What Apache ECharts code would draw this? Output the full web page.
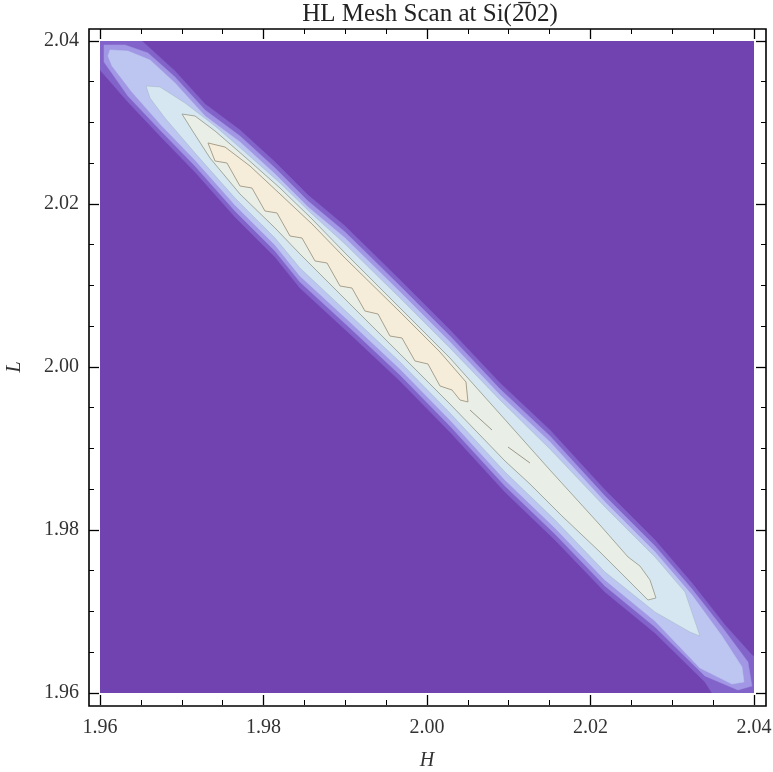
<!DOCTYPE html>
<html>
<head>
<meta charset="utf-8">
<script src="https://cdn.jsdelivr.net/npm/echarts@6/dist/echarts.min.js"></script>
<style>
html,body{margin:0;padding:0;background:#fff;}
#chart{width:773px;height:772px;}
</style>
</head>
<body>
<div id="chart"></div>
<script>
// ---- axis ticks ----
const hTicks = [1.96, 1.98, 2.00, 2.02, 2.04];
const lTicks = [1.96, 1.98, 2.00, 2.02, 2.04];

// ---- contour regions (closed polygons in H, L data units), outer -> inner ----
const level1H = [1.95878,1.96514,1.96917,1.97284,1.97712,1.98141,1.98544,1.98997,1.99670,2.00281,2.00893,2.01504,2.02177,2.02789,2.03241,2.03645,2.03975,2.04257,2.04257,2.04073,2.03486,2.03400,2.02789,2.02177,2.01566,2.00954,2.00281,1.99670,1.99058,1.98446,1.98141,1.97651,1.97162,1.96758,1.96342,1.96000,1.95755,1.95755];
const level1L = [2.04258,2.04000,2.03632,2.03227,2.02908,2.02515,2.02110,2.01730,2.01068,2.00454,1.99804,1.99227,1.98491,1.97877,1.97350,1.96834,1.96466,1.96282,1.95669,1.95669,1.96000,1.96135,1.96736,1.97239,1.97877,1.98466,1.99202,1.99828,2.00405,2.00969,2.01350,2.01841,2.02393,2.02810,2.03252,2.03644,2.03951,2.04258];

const level2H = [1.96049,1.96306,1.96587,1.96917,1.97284,1.97712,1.98141,1.98544,1.98997,1.99670,2.00281,2.00893,2.01504,2.02177,2.02789,2.03241,2.03645,2.03926,2.03975,2.03804,2.03400,2.02789,2.02177,2.01566,2.00954,2.00281,1.99670,1.99058,1.98446,1.98141,1.97651,1.97162,1.96758,1.96342,1.96049];
const level2L = [2.03951,2.03951,2.03853,2.03558,2.03153,2.02834,2.02442,2.02037,2.01657,2.00994,2.00380,1.99730,1.99153,1.98417,1.97804,1.97276,1.96761,1.96380,1.96086,1.96037,1.96209,1.96810,1.97313,1.97951,1.98540,1.99276,1.99902,2.00479,2.01043,2.01423,2.01914,2.02466,2.02883,2.03325,2.03742];

const level3H = [1.96122,1.96342,1.96612,1.96917,1.97284,1.97712,1.98141,1.98544,1.98997,1.99670,2.00281,2.00893,2.01504,2.02177,2.02789,2.03241,2.03608,2.03853,2.03877,2.03731,2.03339,2.02789,2.02177,2.01566,2.00954,2.00281,1.99670,1.99058,1.98446,1.98141,1.97651,1.97162,1.96758,1.96391,1.96147,1.96098];
const level3L = [2.03890,2.03877,2.03767,2.03485,2.03080,2.02761,2.02368,2.01963,2.01583,2.00920,2.00307,1.99656,1.99080,1.98344,1.97730,1.97202,1.96699,1.96319,1.96135,1.96110,1.96307,1.96883,1.97387,1.98025,1.98614,1.99350,1.99975,2.00552,2.01117,2.01497,2.01988,2.02540,2.02957,2.03374,2.03693,2.03816];

const level4H = [1.96563,1.96734,1.97040,1.97407,1.97774,1.98202,1.98593,1.98997,1.99670,2.00281,2.00893,2.01504,2.02177,2.02789,2.03156,2.03339,2.03217,2.02789,2.02177,2.01566,2.00954,2.00281,1.99670,1.99058,1.98446,1.98141,1.97651,1.97162,1.96795,1.96612];
const level4L = [2.03448,2.03436,2.03239,2.02957,2.02638,2.02258,2.01877,2.01509,2.00847,2.00233,1.99595,1.98994,1.98282,1.97669,1.97239,1.96699,1.96748,1.96994,1.97485,1.98123,1.98712,1.99436,2.00061,2.00638,2.01215,2.01583,2.02074,2.02626,2.03055,2.03301];

const level5H = [1.97003,1.97162,1.97407,1.97774,1.98202,1.98593,1.98997,1.99670,2.00281,2.00893,2.01504,2.02116,2.02459,2.02605,2.02728,2.02801,2.02703,2.02361,2.02116,2.01651,2.01260,2.00954,2.00281,1.99670,1.99058,1.98446,1.98141,1.97712,1.97346,1.97125];
const level5L = [2.03104,2.03080,2.02896,2.02577,2.02196,2.01816,2.01399,2.00724,2.00110,1.99423,1.98736,1.98061,1.97669,1.97558,1.97387,1.97166,1.97141,1.97485,1.97730,1.98172,1.98564,1.98847,1.99546,2.00160,2.00773,2.01387,2.01706,2.02123,2.02564,2.02908];

const level6H = [1.97321,1.97529,1.97835,1.98202,1.98593,1.98997,1.99670,2.00159,2.00477,2.00501,2.00404,2.00306,2.00159,2.00012,1.99853,1.99694,1.99547,1.99401,1.99241,1.99082,1.98936,1.98777,1.98630,1.98471,1.98324,1.98165,1.98018,1.97859,1.97712,1.97553,1.97407];
const level6L = [2.02749,2.02699,2.02466,2.02123,2.01755,2.01337,2.00675,2.00184,1.99816,1.99571,1.99595,1.99718,1.99767,2.00037,2.00074,2.00356,2.00380,2.00650,2.00687,2.00969,2.00994,2.01276,2.01301,2.01583,2.01607,2.01890,2.01914,2.02196,2.02221,2.02503,2.02528];

// short broken contour pieces beyond the cream ridge
const dashH = [[2.00526,2.00795],[2.00991,2.01260]];
const dashL = [[1.99472,1.99227],[1.99018,1.98822]];

const levelColors = ['#8263C9','#A197E4','#BCC6F1','#D6E7F1','#E9EFE7','#F6ECDA'];
const levelStrokes = [null,null,null,'rgba(150,165,175,0.35)','#A3A89C','#A8A08C'];

const FONT = '"Liberation Serif","Times New Roman",serif';
const chart = echarts.init(document.getElementById('chart'), null, {renderer:'canvas'});

const levels = [[level1H,level1L],[level2H,level2L],[level3H,level3L],[level4H,level4L],[level5H,level5L],[level6H,level6L]];

const series = levels.map(function(lv, k){
  const H = lv[0], L = lv[1];
  return {
    type:'custom', coordinateSystem:'cartesian2d', xAxisIndex:0, yAxisIndex:0,
    clip:true, silent:true, z: 2 + k,
    data:[[H[0], L[0]]],
    renderItem:function(params, api){
      const pts = H.map(function(h,i){ return api.coord([h, L[i]]); });
      return {type:'polygon', shape:{points:pts}, style:{
        fill: levelColors[k],
        stroke: levelStrokes[k] || levelColors[k],
        lineWidth: levelStrokes[k] ? 1 : 0.5
      }};
    }
  };
});
series.push({
  type:'custom', coordinateSystem:'cartesian2d', xAxisIndex:0, yAxisIndex:0,
  clip:true, silent:true, z:10,
  data:dashH.map(function(h,i){ return [h[0], dashL[i][0]]; }),
  renderItem:function(params, api){
    const i = params.dataIndex;
    const pts = dashH[i].map(function(h,j){ return api.coord([h, dashL[i][j]]); });
    return {type:'polyline', shape:{points:pts}, style:{stroke:'#9C9888', lineWidth:1, fill:null}};
  }
});

const tickFmt = function(v){ return v.toFixed(2); };
function xAx(pos, labels){
  return {
    type:'value', position:pos, min:hTicks[0], max:hTicks[hTicks.length-1], interval:hTicks[1]-hTicks[0],
    offset:12, axisLine:{show:false},
    axisTick:{show:true, inside:true, length:10, lineStyle:{color:'#000', width:1.3}},
    minorTick:{show:true, splitNumber:4, length:5, lineStyle:{color:'#000', width:1}},
    splitLine:{show:false}, minorSplitLine:{show:false},
    axisLabel:{show:labels, margin:13, fontFamily:FONT, fontSize:20, color:'#333', formatter:tickFmt},
    name: labels ? 'H' : '', nameLocation:'middle', nameGap:46, nameMoveOverlap:false,
    nameTextStyle:{fontFamily:FONT, fontStyle:'italic', fontSize:20, color:'#333'}
  };
}
function yAx(pos, labels){
  return {
    type:'value', position:pos, min:lTicks[0], max:lTicks[lTicks.length-1], interval:lTicks[1]-lTicks[0],
    offset:pos==='left'?11:12, axisLine:{show:false},
    axisTick:{show:true, inside:true, length:10, lineStyle:{color:'#000', width:1.3}},
    minorTick:{show:true, splitNumber:4, length:5, lineStyle:{color:'#000', width:1}},
    splitLine:{show:false}, minorSplitLine:{show:false},
    axisLabel:{show:labels, margin:10, fontFamily:FONT, fontSize:20, color:'#333', formatter:tickFmt},
    name: labels ? 'L' : '', nameLocation:'middle', nameGap:64, nameMoveOverlap:false,
    nameTextStyle:{fontFamily:FONT, fontStyle:'italic', fontSize:20, color:'#333'}
  };
}

chart.setOption({
  animation:false,
  backgroundColor:'#ffffff',
  title:{text:'HL Mesh Scan at Si(2\u030502)', left:425, top:-3, textAlign:'center',
    textStyle:{fontFamily:FONT, fontWeight:'normal', fontSize:25, color:'#222'}},
  grid:{left:100, top:41, width:654, height:652, show:true, backgroundColor:'#7043B1', borderWidth:0,
    containLabel:false, outerBoundsMode:'none'},
  xAxis:[xAx('bottom', true), xAx('top', false)],
  yAxis:[yAx('left', true), yAx('right', false)],
  graphic:[{type:'rect', shape:{x:89, y:29, width:677, height:677}, style:{fill:null, stroke:'#000', lineWidth:1.6}, z:100, silent:true}],
  series:series
});
</script>
</body>
</html>
